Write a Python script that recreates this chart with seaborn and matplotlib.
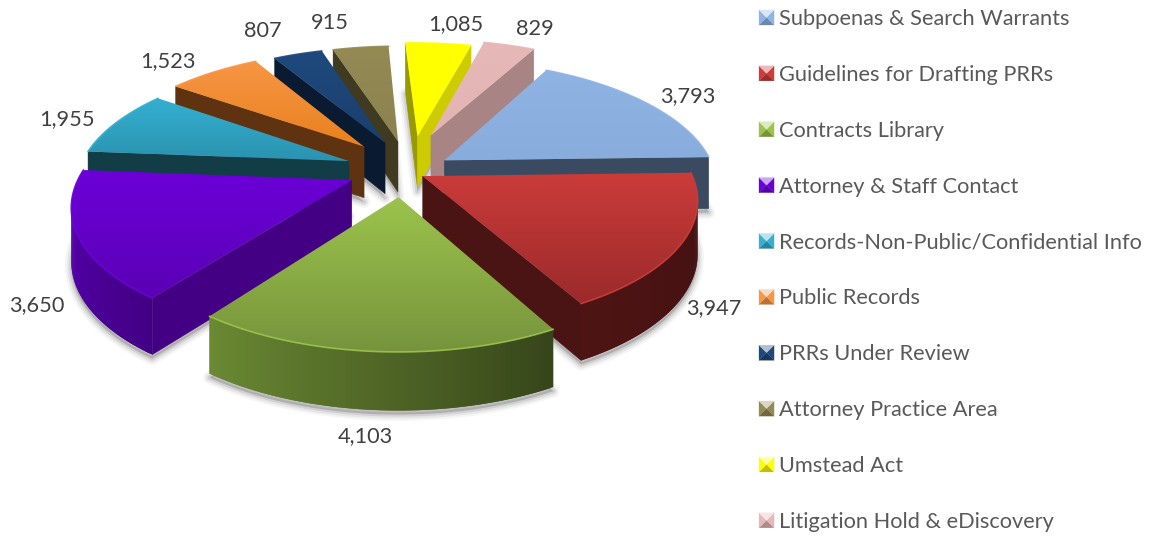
import numpy as np
import matplotlib
matplotlib.use("Agg")
import matplotlib.pyplot as plt
from matplotlib.patches import Polygon
from matplotlib.legend_handler import HandlerBase
import seaborn as sns

names = ['Subpoenas & Search Warrants', 'Guidelines for Drafting PRRs', 'Contracts Library',
         'Attorney & Staff Contact', 'Records-Non-Public/Confidential Info', 'Public Records',
         'PRRs Under Review', 'Attorney Practice Area', 'Umstead Act', 'Litigation Hold & eDiscovery']
values = [3793, 3947, 4103, 3650, 1955, 1523, 807, 915, 1085, 829]

# colours: top face light/dark, outer wall left/right, cut faces
top_light = ['#8FB4E3', '#CB3C3A', '#9CC44C', '#6C00D8', '#35B0D0', '#F79646', '#1F497D', '#948A54', '#FFFF00', '#E6B9B8']
top_dark = ['#88ACDB', '#9A2A2A', '#76933C', '#5A00B4', '#2A92B0', '#E8801C', '#1A3F6E', '#8C8250', '#FFFF00', '#E2B4B3']
wall_a = ['#3A4A60', '#4E1414', '#6B8A33', '#5C00BD', '#143F4A', '#623410', '#0C1E38', '#423C22', '#CCCC00', '#A88584']
wall_b = ['#34445A', '#421010', '#36451A', '#430085', '#123C46', '#5C300E', '#0A1A30', '#403A20', '#CCCC00', '#A88584']
cut_col = ['#3A4A60', '#4A1414', '#3F4F1E', '#430085', '#123C46', '#5F3210', '#0A1A30', '#403A20', '#CCCC00', '#A88584']
cut_left = ['#3A4A60', '#4A1414', '#3F4F1E', '#430085', '#123C46', '#5F3210', '#0A1A30', '#403A20', '#999900', '#A88584']

# layout
explode = [0.20, 0.10, 0.20, 0.20, 0.20, 0.20, 0.20, 0.20, 0.25, 0.30]
nudge_x = [0, 0, 0.012, 0.01, 0, 0, 0.026, 0.03, 0.045, 0.015]
nudge_y = [-0.025, 0, -0.015, 0, 0.005, 0.05, 0.05, 0.05, 0.04, 0.02]
radius = [1, 0.99, 0.965, 1, 1, 1, 1, 1, 1, 1.03]
start_angle = 28
cx, cy, R, tilt, persp, depth = 399, 170, 270, 0.45, 0.18, 52
label_x = [688, 714, 365, 37, 67, 168, 263, 330, 456, 535]
label_y = [96, 308, 436, 305, 119, 61, 31, 23, 24, 29]

sns.set_theme(style="white")
plt.rcParams['font.family'] = ['Lato', 'DejaVu Sans']
txt = '#595959'


def project(x, y, z=0.0):
    k = 1 / (1 + persp * y)
    return cx + R * k * x, cy - R * tilt * k * y + z * depth * np.sqrt(k)


def quad(p, q):
    return [project(p[0], p[1]), project(q[0], q[1]), project(q[0], q[1], 1), project(p[0], p[1], 1)]


def area(pts):
    a = 0
    for i in range(4):
        a += pts[i][0] * pts[(i + 1) % 4][1] - pts[(i + 1) % 4][0] * pts[i][1]
    return a / 2


fig = plt.figure(figsize=(11.63, 5.39), dpi=100)
ax = fig.add_axes([0, 0, 1, 1])

vals = np.array(values, dtype=float)
sweep = vals / vals.sum() * 360
starts = start_angle + np.concatenate([[0], np.cumsum(sweep)[:-1]])
mids = starts + sweep / 2
order = np.argsort(-np.cos(np.radians(mids)))

z = 2
for i in order:
    ex = explode[i] * np.sin(np.radians(mids[i])) + nudge_x[i]
    ey = explode[i] * np.cos(np.radians(mids[i])) + nudge_y[i]
    ang = np.radians(np.linspace(starts[i], starts[i] + sweep[i], max(int(sweep[i] * 1.5), 12)))
    rim = np.column_stack([ex + radius[i] * np.sin(ang), ey + radius[i] * np.cos(ang)])
    apex = (ex, ey)

    # soft shadow under the slice
    base = [project(a, b, 1) for a, b in [apex] + list(rim)]
    base = [(a, b + 4) for a, b in base]
    for lw, al in [(9, 0.05), (6, 0.08), (3, 0.12)]:
        ax.add_patch(Polygon(base, closed=True, fc='#404040', ec='#404040', lw=lw, alpha=al, zorder=z, joinstyle='round'))
    z += 1

    # cut faces, then the outer wall
    for p, q, c in [(apex, rim[0], cut_left[i]), (rim[-1], apex, cut_col[i])]:
        pts = quad(p, q)
        if area(pts) < 0:
            ax.add_patch(Polygon(pts, closed=True, fc=c, ec=c, lw=0.3, zorder=z))
    z += 1
    shades = sns.blend_palette([wall_b[i], wall_a[i]], n_colors=len(rim))
    for j in range(len(rim) - 1):
        # each strip runs under the next one, so no seams show
        pts = quad(rim[j], rim[min(j + 2, len(rim) - 1)])
        if area(quad(rim[j], rim[j + 1])) < 0:
            ax.add_patch(Polygon(pts, closed=True, fc=shades[j], ec='none', zorder=z))
    z += 1

    # top face with a vertical gradient
    top = np.array([project(a, b) for a, b in [apex] + list(rim)])
    patch = Polygon(top, closed=True, fc='none', ec='none', transform=ax.transData, zorder=z)
    ax.add_patch(patch)
    cmap = sns.blend_palette([top_light[i], top_dark[i]], as_cmap=True)
    im = ax.imshow(np.linspace(0, 1, 256)[:, None], cmap=cmap, aspect='auto', zorder=z,
                   extent=(top[:, 0].min() - 2, top[:, 0].max() + 2, top[:, 1].max() + 2, top[:, 1].min() - 2))
    im.set_clip_path(patch)
    ax.plot(top[1:, 0], top[1:, 1], color=top_light[i], lw=1.2, alpha=0.9, zorder=z + 1)
    z += 2

for i in range(len(values)):
    ax.text(label_x[i], label_y[i], f'{values[i]:,}', fontsize=15.7, color='#404040', ha='center', va='center', zorder=200)


class BevelHandler(HandlerBase):
    def create_artists(self, legend, orig, xd, yd, w, h, fs, trans):
        c = np.array(matplotlib.colors.to_rgb(orig.get_facecolor()))
        x0, x1, y0, y1 = 0, w, 0, w
        mx, my = w / 2, w / 2
        light = c + (1 - c) * 0.65
        dark = c * 0.75
        tris = [([(x0, y0), (x1, y0), (mx, my)], dark), ([(x0, y0), (x0, y1), (mx, my)], c),
                ([(x1, y0), (x1, y1), (mx, my)], c), ([(x0, y1), (x1, y1), (mx, my)], light)]
        return [Polygon(p, closed=True, fc=col, ec=col, lw=0.2, transform=trans) for p, col in tris]


handles = [Polygon([(0, 0)], fc=c) for c in top_light]
fsize = 15.7
ax.legend(handles, names, handler_map={Polygon: BevelHandler()}, frameon=False, loc='upper left',
          bbox_to_anchor=(759 / 1163, 1 - 9 / 539), borderaxespad=0, borderpad=0, fontsize=fsize,
          labelspacing=1.645, handlelength=0.69, handleheight=0.7, handletextpad=0.25, labelcolor=txt)

ax.set_xlim(0, 1163)
ax.set_ylim(539, 0)
ax.axis('off')
fig.savefig('out.png', dpi=100, facecolor='white')
